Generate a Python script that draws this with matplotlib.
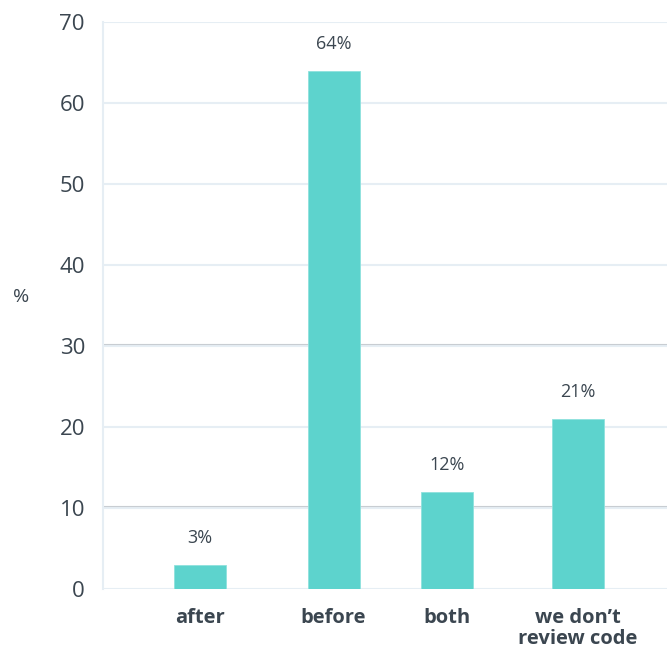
import matplotlib.pyplot as plt

categories = ['after', 'before', 'both', "we don\u2019t\nreview code"]
shares = [3, 64, 12, 21]
positions = [0.86, 2.04, 3.04, 4.2]
yticks = [0, 10, 20, 30, 40, 50, 60, 70]

plt.rcParams['font.family'] = ['Open Sans', 'DejaVu Sans']
text_col = '#3b4650'
grid_col = '#e6eef4'
bar_col = '#5dd3cd'

fig = plt.figure(figsize=(6.67, 6.51), dpi=100)
ax = fig.add_axes([103 / 667, 1 - 589 / 651, 564 / 667, 567 / 651])

for y in yticks:
    ax.axhline(y, color=grid_col, lw=1.5, zorder=0)
for y in (10, 30):
    ax.axhline(y + 0.25, color='#c8cdd2', lw=0.8, zorder=0.5)

ax.bar(positions, shares, width=0.46, color=bar_col, edgecolor='#8fe2dd', lw=0.6, zorder=2)
for x, v in zip(positions, shares):
    ax.text(x, v + 2.2, f'{v}%', ha='center', va='bottom', fontsize=13, color=text_col)

ax.set_xlim(0, 4.99)
ax.set_ylim(0, 70)
ax.set_yticks(yticks)
ax.set_xticks(positions)
ax.set_xticklabels(categories, fontsize=14.5, fontweight='bold', color=text_col, linespacing=1.05)
ax.tick_params(axis='y', labelsize=16, labelcolor=text_col, length=0, pad=13)
ax.tick_params(axis='x', length=0, pad=14)
for s in ('top', 'right', 'bottom'):
    ax.spines[s].set_visible(False)
ax.spines['left'].set_color(grid_col)
ax.spines['left'].set_linewidth(1.5)
ax.set_ylabel('%', rotation=0, fontsize=14, color=text_col)
ax.yaxis.set_label_coords(-0.145, 0.5)

fig.savefig('out.png', dpi=100)
